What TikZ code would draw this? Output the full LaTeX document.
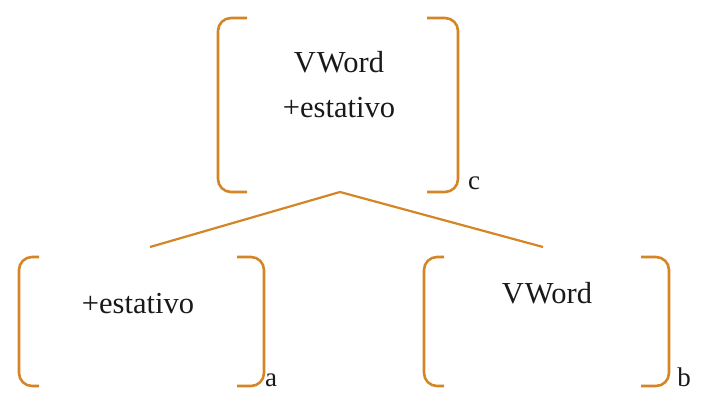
\documentclass[tikz,border=0pt]{standalone}
\usepackage{fontspec}
\setmainfont{Liberation Serif}
\definecolor{brk}{RGB}{212,133,38}
\begin{document}
\begin{tikzpicture}[x=1pt,y=-1pt,
  brack/.style={draw=brk,line width=2.6pt,rounded corners=13pt},
  conn/.style={draw=brk,line width=2.2pt},
  lbl/.style={font=\fontsize{30.5}{35}\selectfont,anchor=base,inner sep=0pt,text=black!90},
  sub/.style={font=\fontsize{27}{32}\selectfont,anchor=base,inner sep=0pt,text=black!90}]
\useasboundingbox (0,0) rectangle (703,411);
% top bracket
\draw[brack] (247,18) -- (218,18) -- (218,192) -- (247,192);
\draw[brack] (427,18) -- (458,18) -- (458,192) -- (427,192);
\node[lbl] (t1) at (339,73) {V\kern1ptWord};
\node[lbl] (t2) at (339,118) {+estativo};
\node[sub] (c) at (474,190) {c};
% bottom-left bracket
\draw[brack] (39,257) -- (19,257) -- (19,386) -- (39,386);
\node[lbl] (l1) at (138,313) {+estativo};
\draw[brack] (237,257) -- (264,257) -- (264,386) -- (237,386);
\node[sub] (a) at (271,386) {a};
% bottom-right bracket
\draw[brack] (444,257) -- (424,257) -- (424,386) -- (444,386);
\node[lbl] (r1) at (547,303) {V\kern1ptWord};
\draw[brack] (641,257) -- (669,257) -- (669,386) -- (641,386);
\node[sub] (b) at (684,386) {b};
% connectors
\coordinate (apex) at (340,192);
\coordinate (lend) at (150,247);
\coordinate (rend) at (543,247);
\draw[conn] (lend) -- (apex) -- (rend);
\end{tikzpicture}
\end{document}
